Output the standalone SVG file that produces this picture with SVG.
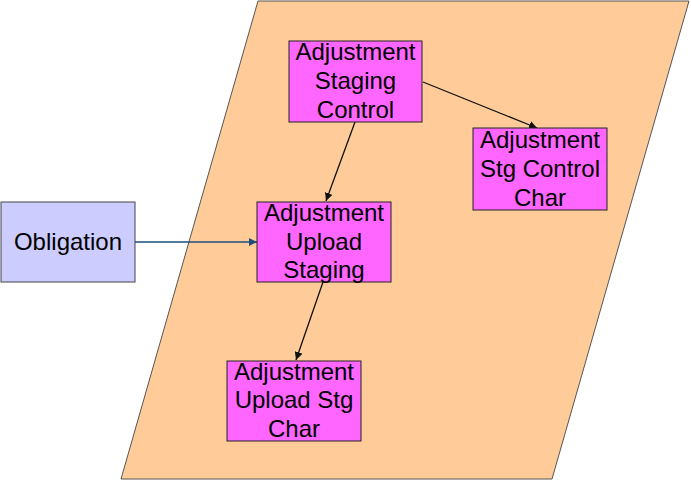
<svg xmlns="http://www.w3.org/2000/svg" width="691" height="481" viewBox="0 0 691 481">
<defs>
<style>
.box{fill:#FF66FF;stroke:#222;stroke-width:1}
.ob{fill:#CCCCFF;stroke:#444;stroke-width:1}
.t{font-family:"Liberation Sans",Arial,sans-serif;font-size:24px;fill:#000;text-anchor:middle}
.c{stroke:#111;stroke-width:1.3;fill:none;marker-end:url(#ah)}
.cb{stroke:#1F4E79;stroke-width:1.3;fill:none;marker-end:url(#ahb)}
</style>
<marker id="ah" viewBox="0 0 10 10" refX="10" refY="5" markerWidth="8" markerHeight="8" markerUnits="userSpaceOnUse" orient="auto"><path d="M0,0L10,5L0,10z" fill="#111"/></marker>
<marker id="ahb" viewBox="0 0 10 10" refX="10" refY="5" markerWidth="8" markerHeight="8" markerUnits="userSpaceOnUse" orient="auto"><path d="M0,0L10,5L0,10z" fill="#1F4E79"/></marker>
</defs>
<rect width="691" height="481" fill="#fff"/>
<g id="area"><polygon points="258,1 689,1 552,479 121,479" fill="#FFCC99" stroke="#555" stroke-width="1"/></g>
<g id="connectors">
<line class="c" x1="355" y1="122" x2="326" y2="201"/>
<line class="c" x1="423" y1="82" x2="537" y2="128"/>
<line class="c" x1="323" y1="282" x2="296" y2="360"/>
<line class="cb" x1="135" y1="242" x2="257" y2="242"/>
</g>
<g id="asc"><rect class="box" x="289" y="41" width="133" height="81"/>
<text class="t" x="355.5" y="60">Adjustment</text><text class="t" x="355.5" y="89">Staging</text><text class="t" x="355.5" y="118">Control</text></g>
<g id="ascc"><rect class="box" x="473" y="128" width="134" height="82"/>
<text class="t" x="540" y="148">Adjustment</text><text class="t" x="540" y="177">Stg Control</text><text class="t" x="540" y="206">Char</text></g>
<g id="obligation"><rect class="ob" x="1" y="202" width="134" height="80"/>
<text class="t" x="68" y="250">Obligation</text></g>
<g id="aus"><rect class="box" x="257" y="202" width="134" height="80"/>
<text class="t" x="324" y="221">Adjustment</text><text class="t" x="324" y="250">Upload</text><text class="t" x="324" y="278">Staging</text></g>
<g id="ausc"><rect class="box" x="227" y="361" width="134" height="80"/>
<text class="t" x="294" y="380">Adjustment</text><text class="t" x="294" y="408">Upload Stg</text><text class="t" x="294" y="437">Char</text></g>
</svg>
